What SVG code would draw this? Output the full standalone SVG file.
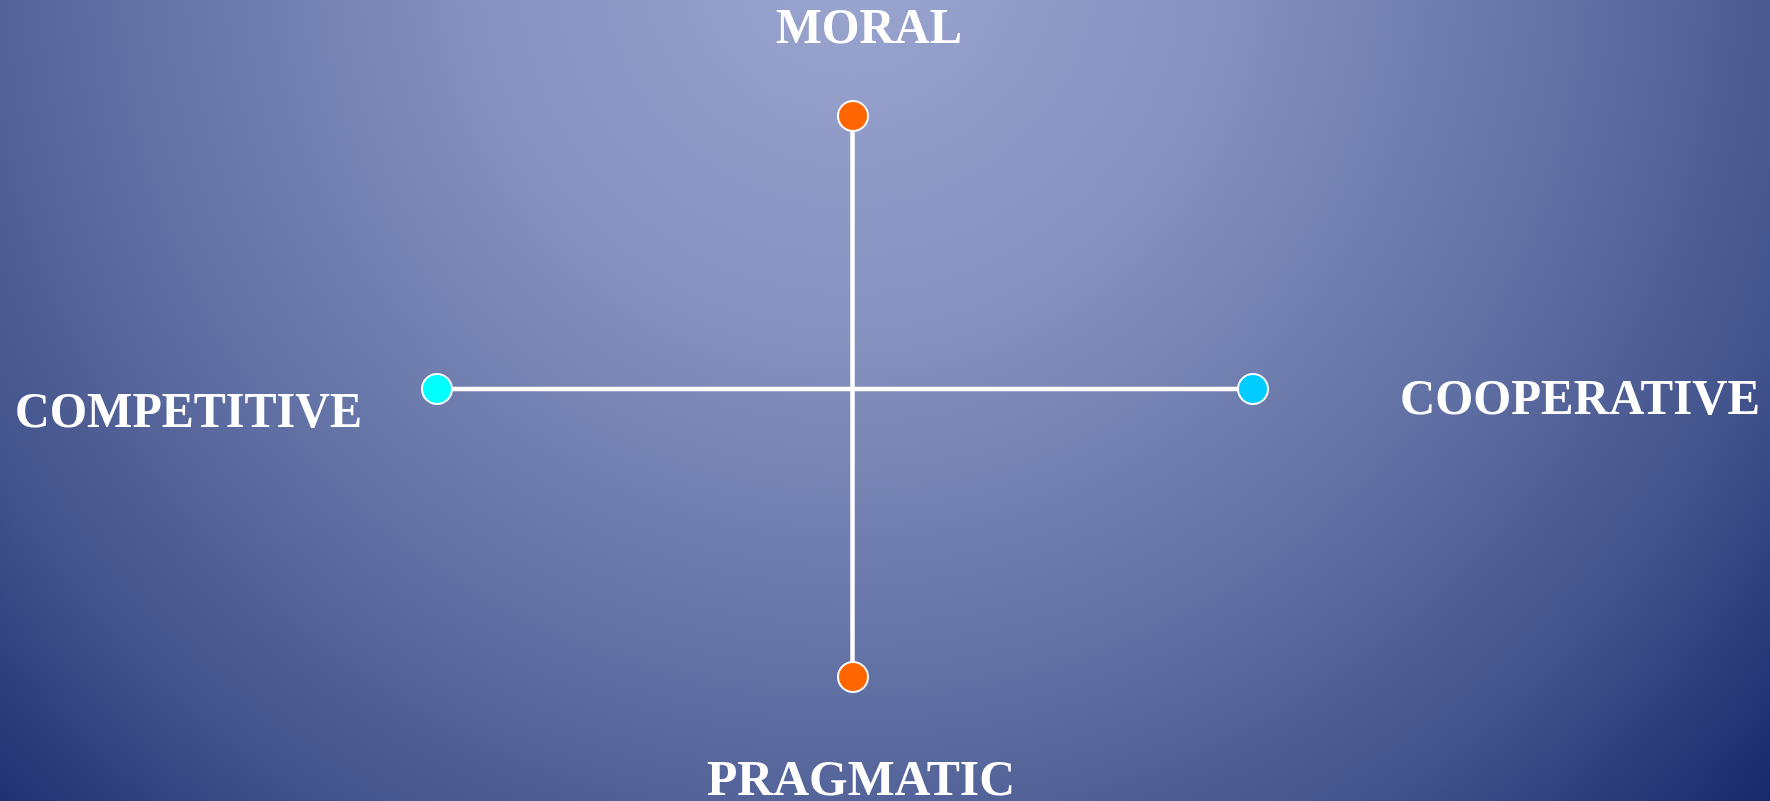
<svg xmlns="http://www.w3.org/2000/svg" width="1770" height="801" viewBox="0 0 1770 801">
<defs>
<radialGradient id="bg" gradientUnits="userSpaceOnUse" cx="850" cy="-40" r="1260">
<stop offset="0" stop-color="#9aa6cf"/>
<stop offset="0.3" stop-color="#8591bf"/>
<stop offset="0.6" stop-color="#5e6ea2"/>
<stop offset="0.8" stop-color="#405089"/>
<stop offset="1" stop-color="#15266a"/>
</radialGradient>
<style>
.lbl{font-family:"Liberation Serif","Times New Roman",serif;font-weight:bold;font-size:50px;fill:#ffffff}
.axis{stroke:#ffffff;stroke-width:4.5;fill:none}
.dot{stroke:#ffffff;stroke-width:2}
</style>
</defs>
<rect x="0" y="0" width="1770" height="801" fill="url(#bg)"/>
<g id="connectors">
<line class="axis" x1="852.5" y1="116" x2="852.5" y2="677"/>
<line class="axis" x1="437" y1="389" x2="1253" y2="389"/>
</g>
<g id="moral">
<circle class="dot" cx="853" cy="116" r="15" fill="#ff6600"/>
<text class="lbl" x="776" y="43" textLength="186" lengthAdjust="spacingAndGlyphs">MORAL</text>
</g>
<g id="pragmatic">
<circle class="dot" cx="853" cy="677" r="15" fill="#ff6600"/>
<text class="lbl" x="707" y="795" textLength="308" lengthAdjust="spacingAndGlyphs">PRAGMATIC</text>
</g>
<g id="competitive">
<circle class="dot" cx="437" cy="389" r="15" fill="#00ffff"/>
<text class="lbl" x="15" y="427" textLength="347" lengthAdjust="spacingAndGlyphs">COMPETITIVE</text>
</g>
<g id="cooperative">
<circle class="dot" cx="1253" cy="389" r="15" fill="#00ccff"/>
<text class="lbl" x="1400" y="414" textLength="360" lengthAdjust="spacingAndGlyphs">COOPERATIVE</text>
</g>
</svg>
